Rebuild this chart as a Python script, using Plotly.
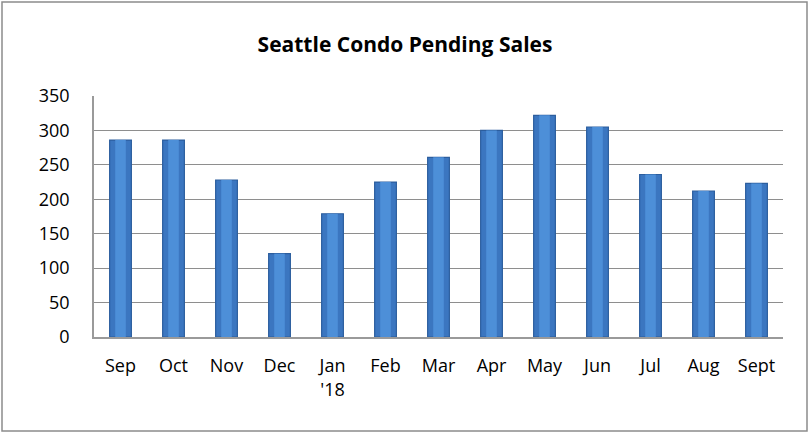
import plotly.graph_objects as go

months = ["Sep", "Oct", "Nov", "Dec", "Jan<br>'18", "Feb", "Mar", "Apr", "May", "Jun", "Jul", "Aug", "Sept"]
pending = [286, 286, 228, 121, 179, 225, 261, 300, 322, 305, 236, 212, 223]
y_ticks = [0, 50, 100, 150, 200, 250, 300, 350]

font_name = "Open Sans, Noto Sans, sans-serif"

fig = go.Figure(
    data=[
        # outer (darker) bar
        go.Bar(x=months, y=pending, width=0.41,
               marker=dict(color="#3B76C0", line=dict(color="#2C5E9E", width=1.2))),
        # lighter centre strip to hint at the bevelled look
        go.Bar(x=months, y=pending, width=0.2,
               marker=dict(color="#4D8FD8", line=dict(width=0))),
    ],
)

# plot area size, used to place the outer frame in paper coords
ml, mr, mt, mb = 94, 27, 96, 97
pw, ph = 810 - ml - mr, 434 - mt - mb

fig.update_layout(
    width=810, height=434,
    margin=dict(l=ml, r=mr, t=mt, b=mb),
    paper_bgcolor="white", plot_bgcolor="white",
    showlegend=False, barmode="overlay",
    title=dict(text="<b>Seattle Condo Pending Sales</b>", x=0.5, xanchor="center",
               y=1 - 45 / 434, yanchor="middle",
               font=dict(family=font_name, size=21, color="black")),
    font=dict(family=font_name, size=18, color="black"),
    xaxis=dict(showline=True, linecolor="#9a9a9a", linewidth=1.5,
               ticks="", ticklabelstandoff=12, showgrid=False,
               tickfont=dict(size=18)),
    yaxis=dict(range=[0, 350], tickvals=y_ticks, showline=True, linecolor="#9a9a9a",
               linewidth=1.5, gridcolor="#8e8e8e", gridwidth=1.3,
               ticks="", ticklabelstandoff=19, zeroline=False,
               tickfont=dict(size=18)),
    shapes=[dict(type="rect", xref="paper", yref="paper",
                 x0=(2 - ml) / pw, x1=(807 - ml) / pw,
                 y0=(337 - 431) / ph, y1=(337 - 2) / ph,
                 line=dict(color="#8c8c8c", width=1.5))],
)

fig.write_html("out.html", config={"displayModeBar": False},
               post_script="document.body.style.margin='0';")
